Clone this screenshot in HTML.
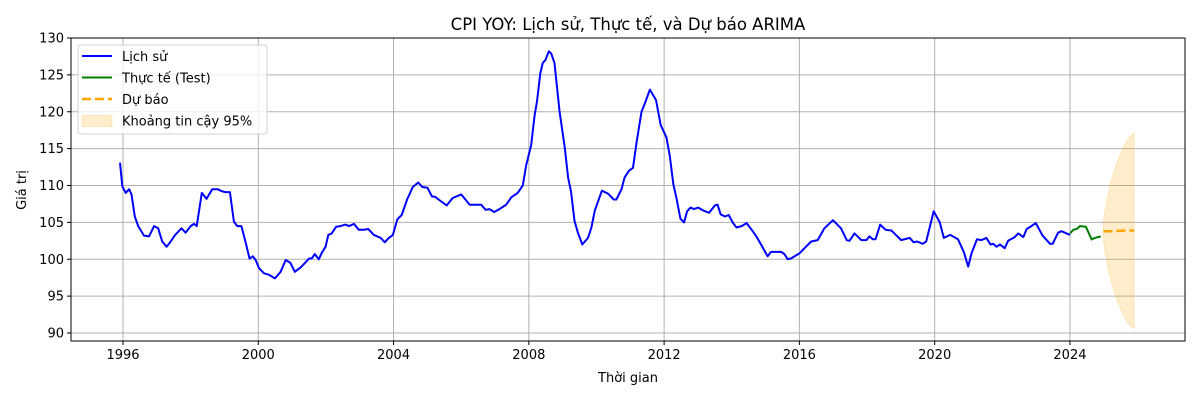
<!DOCTYPE html>
<html><head><meta charset="utf-8"><style>
body{margin:0;background:#fff}
svg{display:block;font-family:"DejaVu Sans","Liberation Sans",sans-serif}
</style></head><body>
<svg id="chart" width="1200" height="400"></svg>
<script>
const histYears=[1995.91,1995.98,1996.08,1996.18,1996.25,1996.35,1996.45,1996.62,1996.77,1996.92,1997.04,1997.16,1997.29,1997.41,1997.54,1997.73,1997.85,1998.0,1998.1,1998.18,1998.33,1998.47,1998.64,1998.79,1998.94,1999.03,1999.16,1999.28,1999.38,1999.5,1999.63,1999.74,1999.84,1999.92,2000.02,2000.17,2000.31,2000.49,2000.66,2000.81,2000.95,2001.08,2001.25,2001.38,2001.5,2001.58,2001.67,2001.79,2001.87,2001.99,2002.07,2002.17,2002.3,2002.43,2002.58,2002.68,2002.83,2002.97,2003.12,2003.25,2003.42,2003.62,2003.74,2003.86,2003.98,2004.11,2004.24,2004.4,2004.57,2004.73,2004.85,2005.0,2005.14,2005.22,2005.39,2005.57,2005.75,2006.0,2006.25,2006.59,2006.72,2006.83,2006.98,2007.13,2007.33,2007.48,2007.67,2007.82,2007.92,2008.07,2008.17,2008.24,2008.34,2008.41,2008.49,2008.59,2008.66,2008.76,2008.91,2009.06,2009.16,2009.25,2009.35,2009.45,2009.58,2009.75,2009.85,2009.95,2010.16,2010.34,2010.51,2010.59,2010.74,2010.83,2010.96,2011.08,2011.18,2011.33,2011.43,2011.58,2011.76,2011.9,2012.07,2012.17,2012.27,2012.37,2012.48,2012.59,2012.68,2012.78,2012.88,2013.01,2013.16,2013.33,2013.5,2013.58,2013.67,2013.8,2013.91,2014.04,2014.14,2014.29,2014.44,2014.59,2014.74,2014.89,2015.06,2015.16,2015.46,2015.56,2015.65,2015.75,2016.0,2016.15,2016.35,2016.54,2016.74,2016.99,2017.23,2017.4,2017.48,2017.63,2017.83,2017.98,2018.07,2018.17,2018.25,2018.39,2018.55,2018.72,2019.01,2019.26,2019.38,2019.48,2019.65,2019.75,2019.97,2020.15,2020.27,2020.46,2020.69,2020.86,2020.99,2021.09,2021.25,2021.38,2021.53,2021.65,2021.73,2021.83,2021.93,2022.07,2022.17,2022.37,2022.47,2022.62,2022.72,2022.86,2022.99,2023.19,2023.41,2023.49,2023.65,2023.75,2023.9,2024.0];
const histValues=[113.1,109.9,109,109.5,108.8,105.8,104.5,103.2,103.1,104.5,104.2,102.4,101.7,102.4,103.3,104.2,103.6,104.5,104.8,104.5,109,108.2,109.5,109.5,109.2,109.1,109.1,105.1,104.5,104.5,102.2,100.1,100.4,99.9,98.8,98.1,97.9,97.4,98.3,99.9,99.5,98.3,98.9,99.5,100.1,100.1,100.7,100,100.8,101.7,103.3,103.5,104.4,104.5,104.7,104.5,104.8,104,104,104.1,103.3,102.9,102.3,102.9,103.3,105.4,106,108.1,109.8,110.4,109.8,109.7,108.5,108.5,107.9,107.3,108.3,108.8,107.4,107.4,106.7,106.8,106.4,106.8,107.4,108.4,109,110,112.7,115.5,119.5,121.4,125.2,126.6,127,128.2,127.9,126.6,120,115.2,111.1,109.1,105.2,103.6,102,102.9,104.3,106.6,109.3,108.9,108.1,108.1,109.5,111.1,112,112.4,115.7,120,121.1,123,121.6,118.2,116.5,113.9,110.2,108.2,105.5,105,106.5,107,106.8,107,106.6,106.3,107.3,107.4,106.1,105.8,106,104.9,104.3,104.5,104.9,104,103,101.8,100.4,101,101,100.7,100,100.1,100.8,101.5,102.4,102.6,104.2,105.3,104.2,102.6,102.5,103.5,102.6,102.6,103.1,102.7,102.7,104.7,104,103.9,102.6,102.9,102.3,102.4,102.1,102.4,106.5,105,102.9,103.3,102.7,101,99,100.8,102.7,102.6,102.9,102,102.1,101.7,102,101.5,102.5,103,103.5,103,104.1,104.5,104.9,103.2,102.1,102.1,103.6,103.8,103.5,103.3];
const testYears=[2024.0,2024.1,2024.2,2024.3,2024.47,2024.64,2024.74,2024.91];
const testValues=[103.5,104,104.1,104.5,104.4,102.7,102.9,103.1];
const fcYears=[2024.99,2025.1,2025.2,2025.3,2025.4,2025.5,2025.6,2025.7,2025.8,2025.9];
const fcValues=[103.8,103.8,103.8,103.85,103.85,103.85,103.9,103.9,103.9,103.9];
const ciUpper=[105.1,108.3,110.3,111.9,113.2,114.3,115.3,116.2,116.7,117.1];
const ciLower=[102.5,99.3,97.3,95.7,94.4,93.3,92.3,91.4,90.9,90.6];
const yTicks=[90,95,100,105,110,115,120,125,130];
const xTicks=[1996,2000,2004,2008,2012,2016,2020,2024];

const L=71,R=1185,T=38,B=341;
const xs=v=>123+(v-1996)*33.82;
const ys=v=>333-(v-90)*7.375;
const svg=document.getElementById('chart');
const NS='http://www.w3.org/2000/svg';
function mk(tag,attrs,parent){const e=document.createElementNS(NS,tag);for(const k in attrs)e.setAttribute(k,attrs[k]);(parent||svg).appendChild(e);return e;}
function pts(xa,ya){return xa.map((x,i)=>xs(x).toFixed(1)+','+ys(ya[i]).toFixed(1)).join(' ');}

const grid=mk('g',{});


yTicks.forEach(t=>{
  mk('line',{x1:L,x2:R,y1:ys(t),y2:ys(t),stroke:'#b0b0b0','stroke-width':1},grid);
  mk('line',{x1:L-4,x2:L,y1:ys(t),y2:ys(t),stroke:'#000'});
  const tx=mk('text',{x:L-7,y:ys(t)+4.5,'text-anchor':'end','font-size':13});
  tx.textContent=t;
  
  
});
xTicks.forEach(t=>{
  mk('line',{x1:xs(t),x2:xs(t),y1:T,y2:B,stroke:'#b0b0b0','stroke-width':1},grid);
  mk('line',{x1:xs(t),x2:xs(t),y1:B,y2:B+4,stroke:'#000'});
  const tx=mk('text',{x:xs(t),y:B+18,'text-anchor':'middle','font-size':13});
  tx.textContent=t;
  
  
});

const ci=mk('polygon',{points:pts(fcYears,ciUpper)+' '+pts(fcYears.slice().reverse(),ciLower.slice().reverse()),fill:'#ffa500','fill-opacity':0.2,stroke:'#ffa500','stroke-opacity':0.2});


const h=mk('polyline',{points:pts(histYears,histValues),fill:'none',stroke:'#0000ff','stroke-width':2,'stroke-linejoin':'round'});


const te=mk('polyline',{points:pts(testYears,testValues),fill:'none',stroke:'#008000','stroke-width':2});


const fc=mk('polyline',{points:pts(fcYears,fcValues),fill:'none',stroke:'#ffa500','stroke-width':2.5,'stroke-dasharray':'9,4'});



const frame=mk('rect',{x:L,y:T,width:R-L,height:B-T,fill:'none',stroke:'#000','stroke-width':1});



const title=mk('text',{x:628,y:30,'text-anchor':'middle','font-size':16.5});
title.textContent='CPI YOY: Lịch sử, Thực tế, và Dự báo ARIMA';


const xt=mk('text',{x:628,y:382,'text-anchor':'middle','font-size':13});
xt.textContent='Thời gian';


const yt=mk('text',{x:26,y:190,'text-anchor':'middle','font-size':13,transform:'rotate(-90 26 190)'});
yt.textContent='Giá trị';



const lg=mk('g',{});


mk('rect',{x:78,y:45,width:189,height:89,rx:3,fill:'#fff','fill-opacity':0.8,stroke:'#d0d0d0'},lg);
const entries=[['Lịch sử','#0000ff','line'],['Thực tế (Test)','#008000','line'],['Dự báo','#ffa500','dash'],['Khoảng tin cậy 95%','#ffa500','box']];
entries.forEach((e,i)=>{
  const y=56+i*21.5;
  if(e[2]==='box') mk('rect',{x:82,y:y-5,width:30,height:11,fill:e[1],'fill-opacity':0.2,stroke:e[1],'stroke-opacity':0.2},lg);
  else mk('line',{x1:82,x2:112,y1:y,y2:y,stroke:e[1],'stroke-width':e[2]==='dash'?2.5:2,'stroke-dasharray':e[2]==='dash'?'9,4':'none'},lg);
  const t=mk('text',{x:122,y:y+5,'font-size':13},lg);
  t.textContent=e[0];
  
  
});
</script>
</body></html>
